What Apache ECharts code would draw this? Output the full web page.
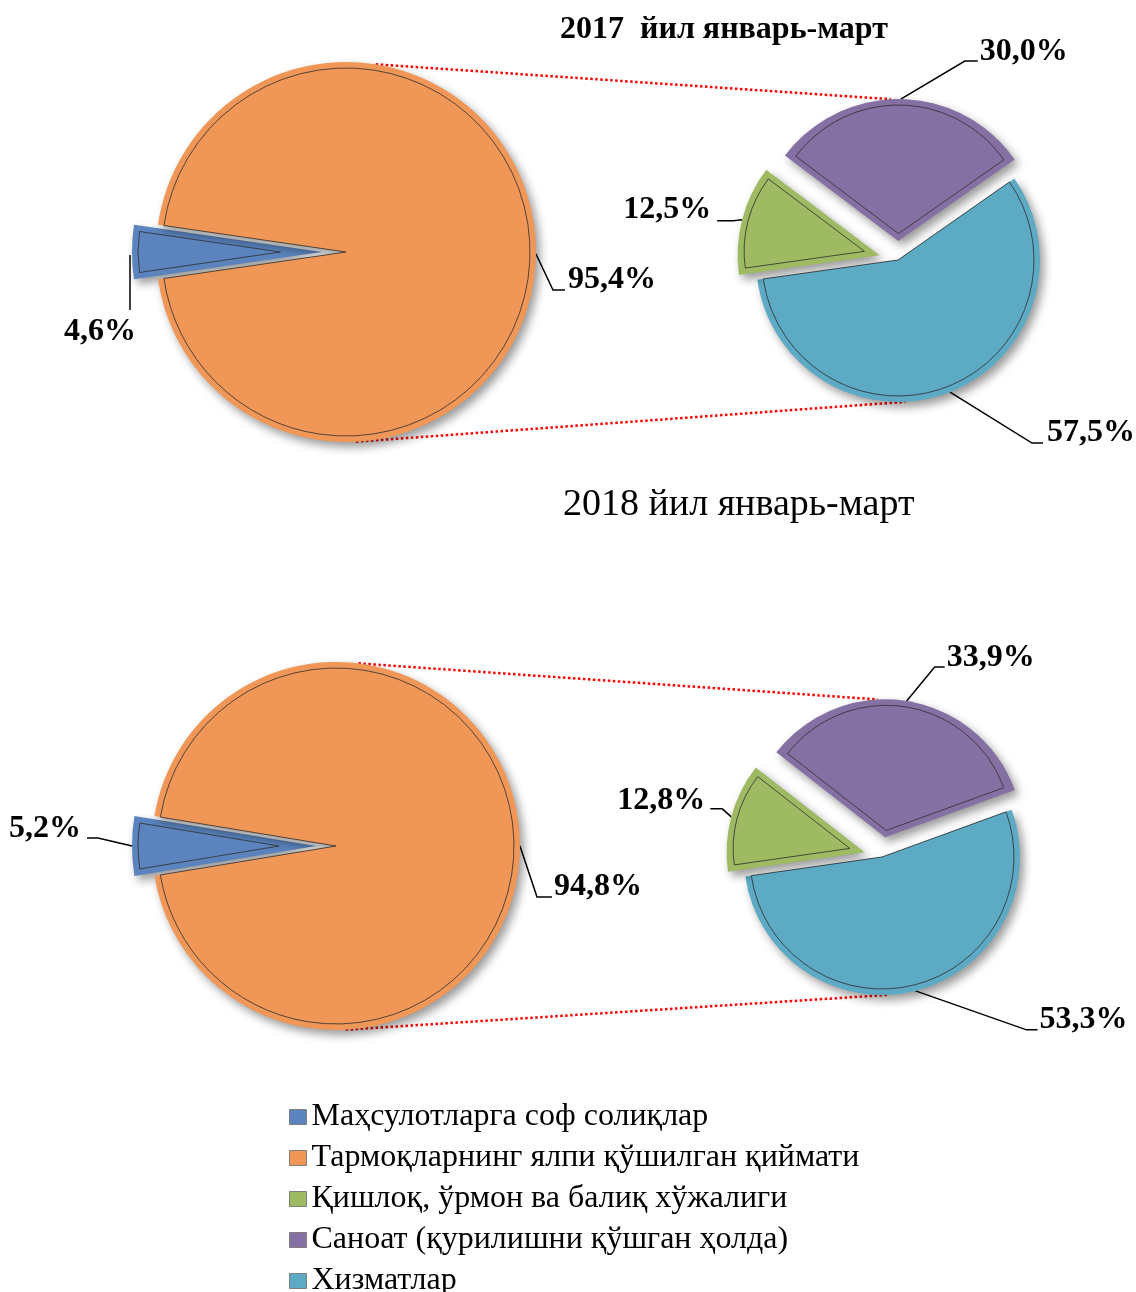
<!DOCTYPE html>
<html><head><meta charset="utf-8">
<script src="https://cdn.jsdelivr.net/npm/echarts@6/dist/echarts.min.js"></script>
<style>html,body{margin:0;padding:0;background:#fff}#c{width:1136px;height:1292px}</style>
</head><body><div id="c"></div>
<script>
// ---------- data ----------
const categories = [
  'Маҳсулотларга соф солиқлар',
  'Тармоқларнинг ялпи қўшилган қиймати',
  'Қишлоқ, ўрмон ва балиқ хўжалиги',
  'Саноат (қурилишни қўшган ҳолда)',
  'Хизматлар'
];
const titles = ['2017  йил январь-март', '2018 йил январь-март'];
// main pies: [taxes, value added]
const main2017 = [4.6, 95.4];
const main2018 = [5.2, 94.8];
// secondary pies: [agriculture, industry, services]
const sub2017 = [12.5, 30.0, 57.5];
const sub2018 = [12.8, 33.9, 53.3];

// ---------- styles / layout ----------
const colors = ['#5B84BE', '#F09757', '#9EBA63', '#8570A3', '#5DAAC4'];
const FONT = 'Liberation Serif';
const INSET = 6;

const pies = [
  { cx: 346, cy: 252, r: 190, cats: [0, 1], values: main2017, mode: 'main', explode: [24, 0],
    labels: [
      { line: [[-2, 3], [-2, 58]], text: [-32, 80], align: 'center' },
      { line: [[0, 2], [17, 38], [29, 38]], text: [32, 28], align: 'left' }
    ] },
  { cx: 898, cy: 260, r: 142, cats: [4, 2, 3], values: [sub2017[2], sub2017[0], sub2017[1]], start: 35, explode: [0, 19, 19],
    labels: [
      { line: [[0, 0], [82, 51], [93, 51]], text: [97, 41], align: 'left' },
      { line: [[0, 0], [-9, 1], [-25, 1]], text: [-31, -10], align: 'right' },
      { line: [[0, 0], [64, -38], [77, -38]], text: [79, -47], align: 'left' }
    ] },
  { cx: 336, cy: 846, r: 184, cats: [0, 1], values: main2018, mode: 'main', explode: [20, 0],
    labels: [
      { line: [[0, 0], [-34, -8], [-45, -8]], text: [-51, -17], align: 'right' },
      { line: [[0, 0], [17, 51], [32, 51]], text: [34, 41], align: 'left' }
    ] },
  { cx: 882, cy: 857, r: 138, cats: [4, 2, 3], values: [sub2018[2], sub2018[0], sub2018[1]], start: 20, explode: [0, 18, 20],
    labels: [
      { line: [[0, 0], [111, 39], [122, 39]], text: [124, 29], align: 'left' },
      { line: [[0, 0], [-9, -8], [-21, -8]], text: [-26, -16], align: 'right' },
      { line: [[0, 0], [28, -34], [38, -34]], text: [40, -43], align: 'left' }
    ] }
];

const series = [];
const fmt = v => v.toFixed(1).replace('.', ',') + '%';

function buildPie(p) {
  const sum = p.values.reduce((a, b) => a + b, 0);
  const startAngle = p.mode === 'main' ? 180 + p.values[0] / sum * 180 : p.start;
  p.sliceCenters = [];
  let acc = 0;
  p.values.forEach((v, i) => {
    const span = v / sum * 360;
    const mid = startAngle - acc - span / 2;
    acc += span;
    const rad = mid * Math.PI / 180;
    const dx = Math.cos(rad), dy = -Math.sin(rad);
    const e = p.explode[i];
    const cx = p.cx + e * dx, cy = p.cy + e * dy;
    p.sliceCenters.push([cx, cy]);
    const half = span / 2 * Math.PI / 180;
    const s = span < 180 ? Math.min(INSET / Math.sin(half), 60) : 0;
    const ax = cx + p.r * dx, ay = cy + p.r * dy;
    const L = p.labels[i];
    const hidden = (vv, j) => ({
      value: vv, name: categories[p.cats[j]],
      itemStyle: { color: 'rgba(0,0,0,0)', borderWidth: 0, shadowBlur: 0, shadowColor: 'rgba(0,0,0,0)' },
      label: { show: false }, labelLine: { show: false }
    });
    const outerData = p.values.map((vv, j) => j === i ? {
      value: vv, name: categories[p.cats[j]],
      itemStyle: { color: colors[p.cats[j]] }
    } : hidden(vv, j));
    const innerData = p.values.map((vv, j) => j === i ? {
      value: vv, name: categories[p.cats[j]],
      itemStyle: { color: colors[p.cats[j]], borderColor: 'rgba(45,45,45,0.8)', borderWidth: 1 },
      label: { show: false }, labelLine: { show: false }
    } : hidden(vv, j));
    series.push({
      type: 'pie', z: 2, center: [cx, cy], radius: [0, p.r], startAngle, clockwise: true,
      avoidLabelOverlap: false, animation: false, emphasis: { disabled: true }, silent: true,
      itemStyle: { shadowBlur: 10, shadowOffsetX: 4, shadowOffsetY: 5, shadowColor: 'rgba(0,0,0,0.4)' },
      label: { show: true, position: 'outside', formatter: q => fmt(q.value), color: '#000',
        fontFamily: FONT, fontWeight: 'bold', fontSize: 32 },
      labelLine: { show: true, lineStyle: { color: '#000', width: 1.5 } },
      labelLayout: function (q) {
        if (q.dataIndex !== i) return {};
        return {
          x: ax + L.text[0], y: ay + L.text[1], align: L.align, verticalAlign: 'middle',
          labelLinePoints: L.line.map(pt => [ax + pt[0], ay + pt[1]])
        };
      },
      data: outerData
    });
    series.push({
      type: 'pie', z: 3, center: [cx + s * dx, cy + s * dy], radius: [0, p.r - INSET - s], startAngle, clockwise: true,
      avoidLabelOverlap: false, animation: false, emphasis: { disabled: true }, silent: true,
      label: { show: false }, labelLine: { show: false },
      data: innerData
    });
  });
}
pies.forEach(buildPie);

// connectors (pie-of-pie dotted lines)
function ptOn(c, r, deg) {
  const a = deg * Math.PI / 180;
  return [c[0] + r * Math.cos(a), c[1] - r * Math.sin(a)];
}
const graphics = [];
[[pies[0], pies[1]], [pies[2], pies[3]]].forEach(([m, sp], k) => {
  const a1 = ptOn([m.cx, m.cy], m.r, k === 0 ? 81 : 83);
  const a2 = ptOn(sp.sliceCenters[2], sp.r, 93);
  const b1 = ptOn([m.cx, m.cy], m.r, -87);
  const b2 = ptOn(sp.sliceCenters[0], sp.r, -87);
  [[a1, a2], [b1, b2]].forEach(([p1, p2]) => graphics.push({
    type: 'line', z: 1, silent: true,
    shape: { x1: p1[0], y1: p1[1], x2: p2[0], y2: p2[1] },
    style: { stroke: '#FF0000', lineWidth: 2.5, lineDash: [2.5, 2.5] }
  }));
});

const chart = echarts.init(document.getElementById('c'), null, { renderer: 'canvas' });
chart.setOption({
  backgroundColor: '#fff',
  animation: false,
  title: [
    { text: titles[0], left: 560, top: 14, padding: 0,
      textStyle: { fontFamily: FONT, fontWeight: 'bold', fontSize: 32, color: '#000' } },
    { text: titles[1], left: 563, top: 486, padding: 0,
      textStyle: { fontFamily: FONT, fontWeight: 'normal', fontSize: 38, color: '#000' } }
  ],
  legend: {
    orient: 'vertical', left: 289, top: 1101, height: 260, padding: 0,
    itemWidth: 17, itemHeight: 15, itemGap: 9, selectedMode: false, icon: 'rect',
    textStyle: { fontFamily: FONT, fontSize: 32, color: '#000', lineHeight: 32 },
    data: categories.map((n, k) => ({ name: n, itemStyle: { color: colors[k], borderColor: '#7F7F7F', borderWidth: 1 } }))
  },
  graphic: graphics,
  series
});
</script></body></html>
